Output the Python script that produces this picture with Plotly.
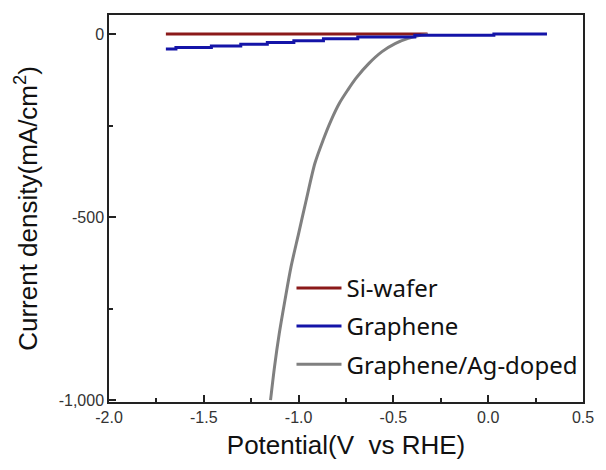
import plotly.graph_objects as go

# Si-wafer
si_x = [-1.70, -0.32]
si_y = [0, 0]

# Graphene (stepped)
gr_x = [-1.70, -1.647, -1.46, -1.305, -1.165, -1.025, -0.869, -0.688, -0.387, 0.03, 0.31]
gr_y = [-41, -37, -33, -28, -23, -18, -13, -8, -3, 0, 0]

# Graphene/Ag-doped
ag_x = [-1.148, -1.127, -1.102, -1.072, -1.040, -1.000, -0.960, -0.914,
        -0.871, -0.828, -0.785, -0.741, -0.698, -0.629, -0.560, -0.491, -0.422, -0.352, -0.32]
ag_y = [-1000, -909, -818, -727, -636, -545, -454, -353,
        -290, -235, -189, -153, -121, -80, -48, -26, -12, -3, -1]

fig = go.Figure()
fig.add_trace(go.Scatter(x=si_x, y=si_y, mode="lines", name="Si-wafer",
                         line=dict(color="#8b1a1a", width=3), legendgroup="a", legendrank=1))
fig.add_trace(go.Scatter(x=ag_x, y=ag_y, mode="lines", name="Graphene/Ag-doped",
                         line=dict(color="#808080", width=3, shape="spline", smoothing=0.8),
                         legendgroup="c", legendrank=3))
fig.add_trace(go.Scatter(x=gr_x, y=gr_y, mode="lines", name="Graphene", line_shape="hv",
                         line=dict(color="#1414a8", width=3), legendgroup="b", legendrank=2))

fig.update_layout(
    width=606, height=470,
    margin=dict(l=109, r=15, t=15, b=68),
    paper_bgcolor="white", plot_bgcolor="white",
    font=dict(family="Liberation Sans, Arial, sans-serif", color="#222"),
    showlegend=True,
    legend=dict(x=0.385, y=0.352, xanchor="left", yanchor="top",
                traceorder="grouped", tracegroupgap=4, itemwidth=45,
                font=dict(family="Noto Sans, sans-serif", size=24, color="#111"),
                bgcolor="rgba(0,0,0,0)"),
    xaxis=dict(range=[-2.0, 0.5], tickvals=[-2.0, -1.5, -1.0, -0.5, 0.0, 0.5],
               ticktext=["-2.0", "-1.5", "-1.0", "-0.5", "0.0", "0.5"],
               ticks="inside", ticklen=7, tickwidth=1.5, tickcolor="#222",
               minor=dict(ticks="inside", ticklen=4, dtick=0.25, tick0=-2.0, tickcolor="#222"),
               showline=True, linecolor="#222", linewidth=1.5, mirror=True,
               showgrid=False, zeroline=False,
               tickfont=dict(size=16, color="#333"),
               title=dict(text="Potential(V  vs RHE)", font=dict(size=26, color="#111"), standoff=11)),
    yaxis=dict(range=[-1005, 52], tickvals=[0, -500, -1000], ticktext=["0", "-500", "-1,000"],
               ticks="inside", ticklen=7, tickwidth=1.5, tickcolor="#222",
               minor=dict(ticks="inside", ticklen=4, tickvals=[-250, -750], tickcolor="#222"),
               showline=True, linecolor="#222", linewidth=1.5, mirror=True,
               showgrid=False, zeroline=False,
               tickfont=dict(size=16, color="#333"),
               title=dict(text="Current density(mA/cm<sup>2</sup>)", font=dict(size=26, color="#111"), standoff=14)),
)
fig.write_html("out.html")
